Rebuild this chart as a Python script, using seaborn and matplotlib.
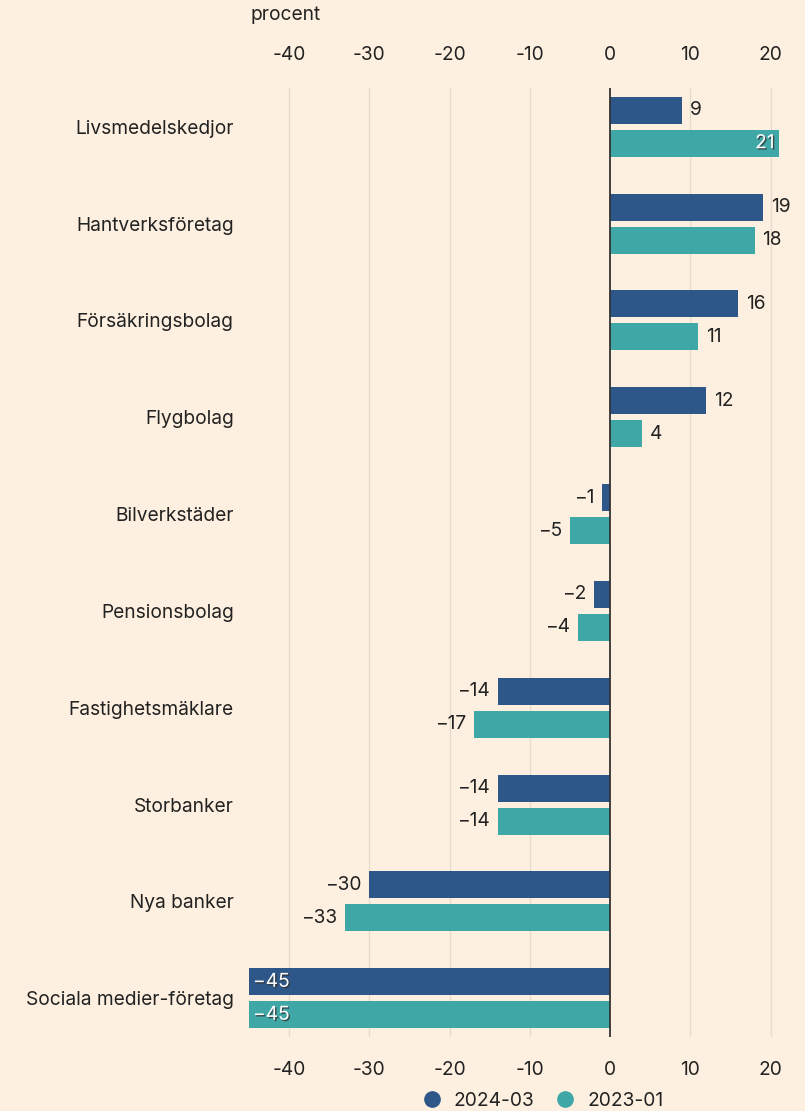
import matplotlib
matplotlib.use("Agg")
import matplotlib.pyplot as plt
import matplotlib.patheffects as pe
from matplotlib.lines import Line2D
import seaborn as sns
import pandas as pd

categories = ["Livsmedelskedjor", "Hantverksföretag", "Försäkringsbolag", "Flygbolag",
              "Bilverkstäder", "Pensionsbolag", "Fastighetsmäklare", "Storbanker",
              "Nya banker", "Sociala medier-företag"]
series_names = ["2024-03", "2023-01"]
values_2024 = [9, 19, 16, 12, -1, -2, -14, -14, -30, -45]
values_2023 = [21, 18, 11, 4, -5, -4, -17, -14, -33, -45]
xticks = [-40, -30, -20, -10, 0, 10, 20]
xtick_labels = ["-40", "-30", "-20", "-10", "0", "10", "20"]

colors = {"2024-03": "#2d5788", "2023-01": "#40a7a7"}
bg = "#fdf0e0"
txt = "#222222"
FS = 13.8

df = pd.DataFrame({
    "kategori": categories * 2,
    "serie": [series_names[0]] * len(categories) + [series_names[1]] * len(categories),
    "varde": values_2024 + values_2023,
})

sns.set_theme(style="white")
plt.rcParams["font.family"] = ["Inter", "DejaVu Sans"]

fig = plt.figure(figsize=(8.05, 11.11), dpi=100, facecolor=bg)
ax = fig.add_axes([249 / 805, 1 - 1037 / 1111, (781 - 249) / 805, (1037 - 88) / 1111])
ax.set_facecolor(bg)

sns.barplot(data=df, x="varde", y="kategori", hue="serie", order=categories,
            hue_order=series_names, palette=colors, orient="h", width=0.68, gap=0.18,
            ax=ax, legend=False, saturation=1, linewidth=0, edgecolor="none")

ax.set_xlim(-45, 21.3)
ax.set_ylim(9.4, -0.4)
ax.set_xticks(xticks)
ax.set_xticklabels(xtick_labels)
ax.tick_params(axis="x", which="both", top=False, bottom=False, length=0,
               labeltop=True, labelbottom=True, labelsize=FS, colors=txt, pad=17)
ax.tick_params(axis="y", left=False, length=0, labelsize=FS, colors=txt, pad=11)
for lab in ax.get_yticklabels():
    lab.set_va("center_baseline")
ax.set_xlabel("")
ax.set_ylabel("")
for s in ax.spines.values():
    s.set_visible(False)
for xt in xticks:
    if xt != 0:
        ax.axvline(xt, color="#e6dccd", lw=1, zorder=0)
ax.axvline(0, color="#333333", lw=1.3, zorder=3)

def fmt(v):
    return str(v) if v >= 0 else "\u2212" + str(abs(v))

for container in ax.containers:
    for bar in container:
        w = bar.get_width()
        yc = bar.get_y() + bar.get_height() / 2
        lab = fmt(int(round(w)))
        inside = (w >= 20) or (w <= -40)
        if inside:
            if w > 0:
                x, ha = w - 0.5, "right"
            else:
                x, ha = w + 0.5, "left"
            ax.text(x, yc, lab, ha=ha, va="center", fontsize=FS, color="white",
                    path_effects=[pe.withSimplePatchShadow(offset=(1, -1), shadow_rgbFace="#333333", alpha=0.8)],
                    zorder=5)
        else:
            if w >= 0:
                x, ha = w + 1.0, "left"
            else:
                x, ha = w - 1.0, "right"
            ax.text(x, yc, lab, ha=ha, va="center", fontsize=FS, color=txt, zorder=5)

fig.text(250 / 805, 1 - 15 / 1111, "procent", ha="left", va="center", fontsize=FS, color=txt)

handles = [Line2D([0], [0], marker="o", linestyle="", markersize=11,
                  markerfacecolor=colors[n], markeredgecolor=colors[n], label=n) for n in series_names]
fig.legend(handles=handles, loc="center", bbox_to_anchor=(538 / 805, 1 - 1101 / 1111), ncol=2,
           frameon=False, fontsize=FS, handletextpad=0.15, columnspacing=0.6, labelcolor=txt)

fig.savefig("out.png", dpi=100, facecolor=bg)
